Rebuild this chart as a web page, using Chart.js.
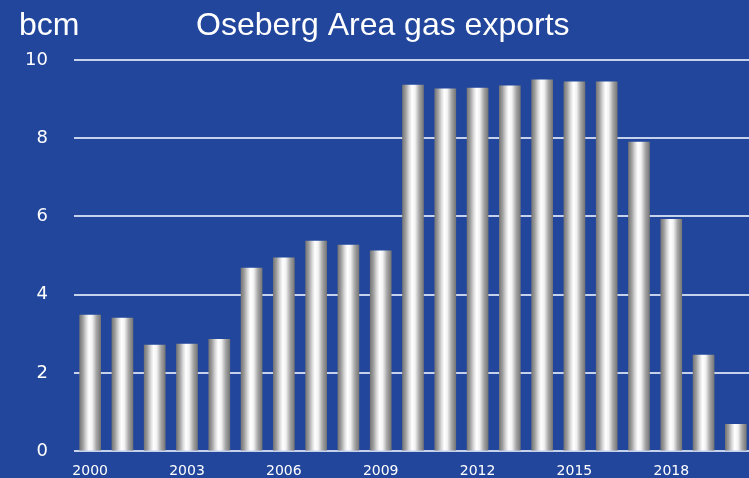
<!DOCTYPE html>
<html>
<head>
<meta charset="utf-8">
<script src="https://cdn.jsdelivr.net/npm/chart.js@4.4.1/dist/chart.umd.min.js"></script>
<style>
    html, body { margin: 0; padding: 0; background: #21469c; overflow: hidden; }
    #wrap { width: 749px; height: 478px; overflow: hidden; }
</style>
</head>
<body>
<div id="wrap"><canvas id="barChart" width="752" height="488"></canvas></div>
<script>

    // Oseberg Area gas exports, bcm per year
    var years = ['2000', '2001', '2002', '2003', '2004', '2005', '2006', '2007', '2008', '2009', '2010',
        '2011', '2012', '2013', '2014', '2015', '2016', '2017', '2018', '2019', '2020'];
    var exports = [3.48, 3.40, 2.71, 2.74, 2.86, 4.68, 4.94, 5.37, 5.27, 5.12, 9.36,
        9.26, 9.28, 9.34, 9.49, 9.44, 9.44, 7.90, 5.93, 2.46, 0.69];
    var yTicks = [0, 2, 4, 6, 8, 10];
    var unitLabel = 'bcm';
    var chartTitle = 'Oseberg Area gas exports';

    // silver cylinder look, one gradient per bar
    function barFill(context) {
        var chart = context.chart;
        var xScale = chart.scales.x;
        if (!chart.chartArea || !xScale) {
            return '#c0c0c0';
        }
        var cx = xScale.getPixelForValue(context.dataIndex);
        var half = 10.5;
        var g = chart.ctx.createLinearGradient(cx - half, 0, cx + half, 0);
        g.addColorStop(0, '#777777');
        g.addColorStop(0.15, '#9e9e9e');
        g.addColorStop(0.32, '#dcdcdc');
        g.addColorStop(0.45, '#ffffff');
        g.addColorStop(0.6, '#f2f2f2');
        g.addColorStop(0.8, '#a6a6a6');
        g.addColorStop(1, '#777777');
        return g;
    }

    var headerText = {
        id: 'headerText',
        afterDraw: function (chart) {
            var ctx = chart.ctx;
            ctx.save();
            ctx.fillStyle = '#ffffff';
            ctx.font = '32px "Liberation Sans", Arial, sans-serif';
            ctx.textAlign = 'left';
            ctx.textBaseline = 'alphabetic';
            ctx.fillText(unitLabel, 19, 35);
            ctx.fillText(chartTitle, 196, 35);
            ctx.restore();
        }
    };

    var barData = {
        labels: years,
        datasets: [{
            label: chartTitle,
            data: exports,
            backgroundColor: barFill,
            borderWidth: 0,
            barThickness: 21
        }]
    };

    var barOptions = {
        responsive: false,
        animation: false,
        layout: {
            padding: {top: 60, right: 0, left: 0, bottom: 0}
        },
        plugins: {
            legend: {display: false},
            tooltip: {enabled: false},
            title: {display: false}
        },
        scales: {
            x: {
                offset: true,
                grid: {display: false},
                border: {display: false},
                ticks: {
                    color: '#ffffff',
                    font: {family: '"DejaVu Sans", Verdana, sans-serif', size: 14},
                    autoSkip: false,
                    maxRotation: 0,
                    padding: 4,
                    callback: function (val, i) {
                        return i % 3 === 0 ? years[i] : '';
                    }
                }
            },
            y: {
                min: yTicks[0],
                max: yTicks[yTicks.length - 1],
                border: {display: false},
                grid: {
                    color: '#c6d1ec',
                    lineWidth: 2,
                    drawTicks: false
                },
                afterBuildTicks: function (scale) {
                    scale.ticks = yTicks.map(function (v) { return {value: v}; });
                },
                ticks: {
                    color: '#ffffff',
                    font: {family: '"DejaVu Sans", Verdana, sans-serif', size: 18},
                    padding: 26
                },
                afterFit: function (scale) {
                    scale.width = 74;
                }
            }
        }
    };

    var ctx = document.getElementById('barChart').getContext('2d');
    new Chart(ctx, {type: 'bar', data: barData, options: barOptions, plugins: [headerText]});

</script>
</body>
</html>
